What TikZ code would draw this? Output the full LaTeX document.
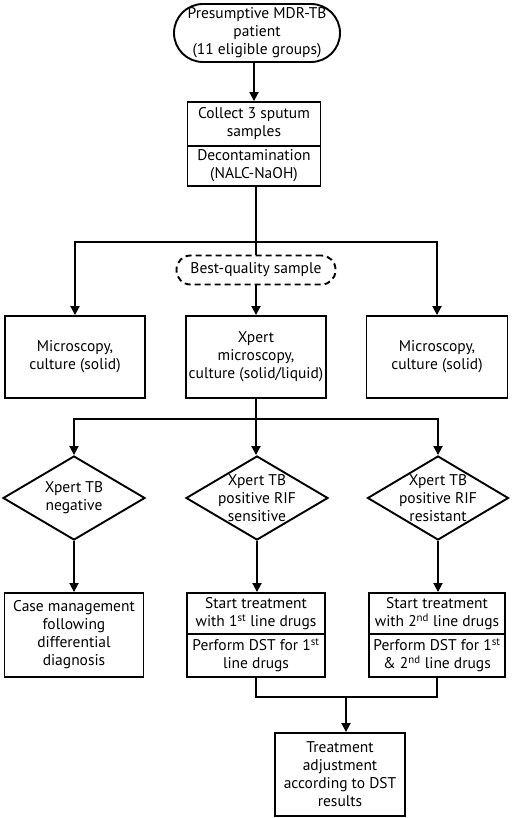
\documentclass[tikz,border=0pt]{standalone}
\usepackage{fontspec}
\setmainfont{PT Sans}
\usetikzlibrary{arrows.meta,shapes.geometric}
\begin{document}
\begin{tikzpicture}[x=1pt,y=-1pt,
  every node/.style={font=\fontsize{15.5}{18}\selectfont},
  box/.style={draw,line width=1.9pt,align=center,inner sep=2pt},
  dia/.style={draw,diamond,line width=1.9pt,inner sep=0pt},
  txt/.style={align=center,inner sep=0pt},
  conn/.style={line width=1.9pt},
  arr/.style={line width=1.9pt,-{Triangle[length=9pt,width=9pt]}}]
\useasboundingbox (0,0) rectangle (512,818);
% top
\node[box,rounded corners=29pt,minimum width=166pt,minimum height=58pt] (start) at (257,33) {Presumptive MDR-TB\\patient\\(11 eligible groups)};
\node[box,minimum width=133pt,minimum height=44pt] (colA) at (254,124) {Collect 3 sputum\\samples};
\node[box,minimum width=133pt,minimum height=40pt] (colB) at (254,166) {Decontamination\\(NALC-NaOH)};
\coordinate (sp1) at (256,242);
\node[box,dash pattern=on 6pt off 4pt,rounded corners=14pt,minimum width=159pt,minimum height=29pt] (best) at (256,270) {Best-quality sample};
% second row
\node[box,minimum width=140pt,minimum height=82pt] (micL) at (75,357) {Microscopy,\\culture (solid)};
\node[box,minimum width=140pt,minimum height=82pt] (xpert) at (256,357) {Xpert\\microscopy,\\culture (solid/liquid)};
\node[box,minimum width=141pt,minimum height=82pt] (micR) at (437,357) {Microscopy,\\culture (solid)};
\coordinate (sp2) at (256,419);
% diamonds
\node[dia,minimum width=142pt,minimum height=84pt] (dL) at (74,498) {};
\node[dia,minimum width=142pt,minimum height=84pt] (dM) at (257,498) {};
\node[dia,minimum width=141pt,minimum height=84pt] (dR) at (438,498) {};
\node[txt] (tL) at (dL) {Xpert TB\\negative};
\node[txt] (tM) at (dM) {Xpert TB\\positive RIF\\sensitive};
\node[txt] (tR) at (dR) {Xpert TB\\positive RIF\\resistant};
% bottom boxes
\node[box,minimum width=139pt,minimum height=84pt] (case) at (74,635) {Case management\\following\\differential\\diagnosis};
\node[box,minimum width=138pt,minimum height=41pt] (s1A) at (256,613.5) {Start treatment\\with 1\textsuperscript{st} line drugs};
\node[box,minimum width=138pt,minimum height=43pt] (s1B) at (256,655.5) {Perform DST for 1\textsuperscript{st}\\line drugs};
\node[box,minimum width=136pt,minimum height=41pt] (s2A) at (437,613.5) {Start treatment\\with 2\textsuperscript{nd} line drugs};
\node[box,minimum width=136pt,minimum height=43pt] (s2B) at (437,655.5) {Perform DST for 1\textsuperscript{st}\\\& 2\textsuperscript{nd} line drugs};
\coordinate (mg) at (346,697);
\node[box,minimum width=130pt,minimum height=83pt] (final) at (340,774.5) {Treatment\\adjustment\\according to DST\\results};
% connectors
\draw[arr] (start.south -| colA) -- (colA.north);
\draw[conn] (colB.south -| sp1) -- (sp1);
\draw[conn] (sp1) -- (best.north);
\draw[arr] (sp1) -| (micL.north);
\draw[arr] (sp1) -| (micR.north);
\draw[arr] (best.south) -- (best.south |- xpert.north);
\draw[conn] (xpert.south) -- (sp2);
\draw[arr] (sp2) -| (dL.north);
\draw[arr] (sp2) -| (dR.north);
\draw[arr] (sp2) -- (sp2 |- dM.north);
\draw[arr] (dL.south) -- (dL.south |- case.north);
\draw[arr] (dM.south) -- (dM.south |- s1A.north);
\draw[arr] (dR.south) -- (dR.south |- s2A.north);
\draw[conn] (s1B.south) |- (mg) -| (s2B.south);
\draw[arr] (mg) -- (mg |- final.north);
\end{tikzpicture}
\end{document}
